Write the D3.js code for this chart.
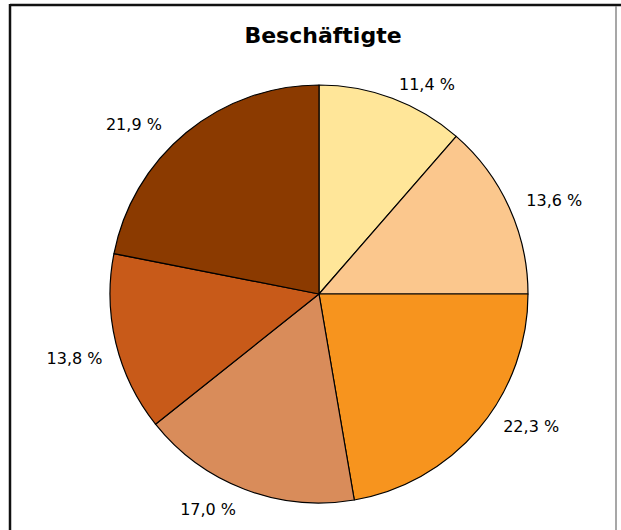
<!DOCTYPE html>
<html>
<head>
<meta charset="utf-8">
<script src="https://cdn.jsdelivr.net/npm/d3@7"></script>
<style>
  body { margin: 0; background: #fff; }
  text { font-family: "DejaVu Sans", sans-serif; fill: #000; }
</style>
</head>
<body>
<svg id="chart_svg" width="621" height="530"></svg>
<script>
// data
var categories = ["A", "B", "C", "D", "E", "F"];
var shares = [11.4, 13.6, 22.3, 17.0, 13.8, 21.9];
var shareLabels = ["11,4 %", "13,6 %", "22,3 %", "17,0 %", "13,8 %", "21,9 %"];
var colors = ["#ffe699", "#fbc78d", "#f7941e", "#d98c5a", "#c85a19", "#8b3a00"];

// label placement tweaks (degrees off the slice middle, radius)
var labelNudge = [6.7, 2.9, -8.2, 6.4, -1.2, -8.1];
var labelRadius = [236, 253, 250, 242, 253, 251];

var cx = 319, cy = 294, r = 209;

var base = d3.select("#chart_svg");

// frame
base.append("line")
    .attr("x1", 10).attr("y1", 5).attr("x2", 621).attr("y2", 5)
    .attr("stroke", "#111").attr("stroke-width", 2.5);
base.append("line")
    .attr("x1", 10).attr("y1", 4).attr("x2", 10).attr("y2", 530)
    .attr("stroke", "#111").attr("stroke-width", 2.5);
base.append("line")
    .attr("x1", 616).attr("y1", 6).attr("x2", 616).attr("y2", 530)
    .attr("stroke", "#8a8a8a").attr("stroke-width", 1.5);

// title
base.append("text")
    .text("Beschäftigte")
    .attr("x", 323)
    .attr("y", 43)
    .attr("font-size", "22px")
    .attr("font-weight", "bold")
    .attr("text-anchor", "middle");

var pie = d3.pie().sort(null).value(function(d) { return d; });
var arcs = pie(shares);
var arc = d3.arc().innerRadius(0).outerRadius(r);

var pieGroup = base.append("g")
    .attr("transform", "translate(" + cx + "," + cy + ")");

pieGroup.selectAll("path")
    .data(arcs)
    .enter().append("path")
    .attr("d", arc)
    .attr("fill", function(d, i) { return colors[i]; })
    .attr("stroke", "#000")
    .attr("stroke-width", 1.2)
    .attr("stroke-linejoin", "round");

pieGroup.selectAll("text")
    .data(arcs)
    .enter().append("text")
    .text(function(d, i) { return shareLabels[i]; })
    .attr("x", function(d, i) {
        var a = (d.startAngle + d.endAngle) / 2 + labelNudge[i] * Math.PI / 180;
        return labelRadius[i] * Math.sin(a);
    })
    .attr("y", function(d, i) {
        var a = (d.startAngle + d.endAngle) / 2 + labelNudge[i] * Math.PI / 180;
        return -labelRadius[i] * Math.cos(a);
    })
    .attr("font-size", "16px")
    .attr("text-anchor", "middle")
    .attr("dominant-baseline", "central");
</script>
</body>
</html>
